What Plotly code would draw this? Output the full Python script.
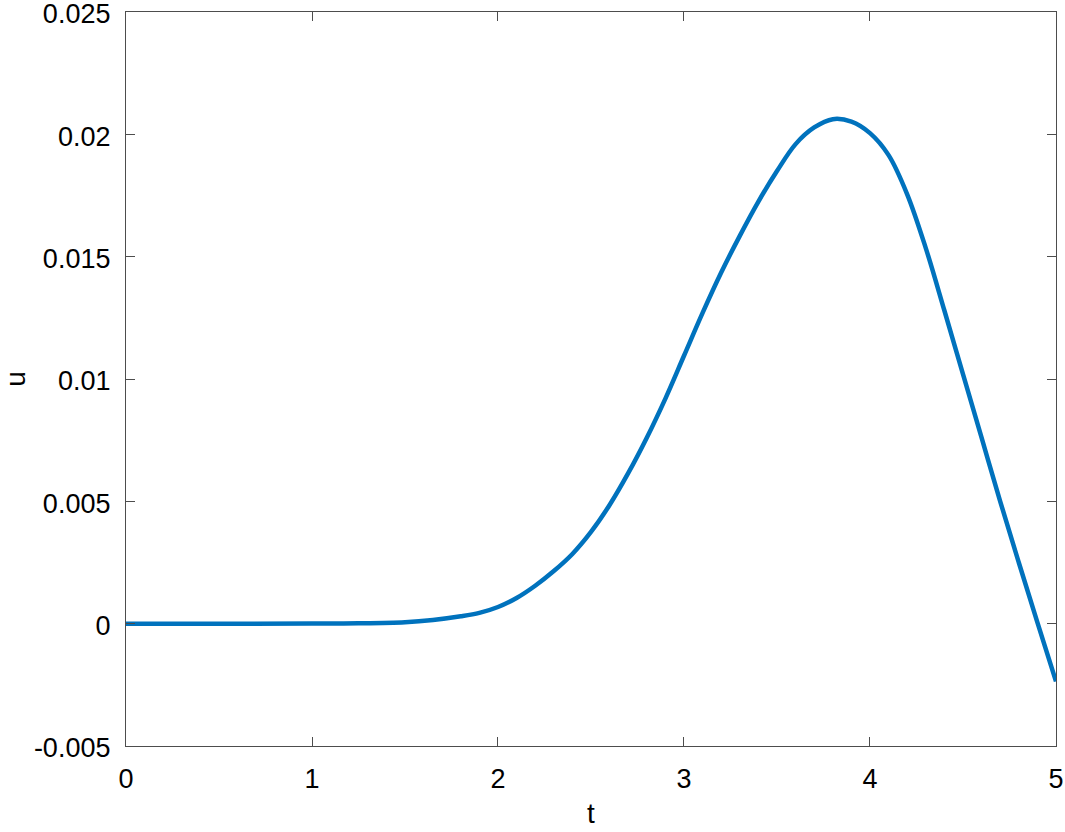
import plotly.graph_objects as go

# values (u in units of 1e-3)
t_vals = [0, 0.5, 1.0, 1.25, 1.5, 1.65, 1.8, 1.9, 2.0, 2.1, 2.2, 2.3, 2.4, 2.5, 2.6,
          2.7, 2.8, 2.9, 3.0, 3.1, 3.2, 3.3, 3.4, 3.5, 3.6, 3.7, 3.8, 3.9, 4.0,
          4.1, 4.2, 4.3, 4.4, 4.5, 4.6, 4.7, 4.8, 4.9, 5.0]
u_milli = [0, 0, 0.005, 0.015, 0.06, 0.15, 0.3, 0.44, 0.68, 1.05, 1.55, 2.15, 2.85, 3.75, 4.85,
           6.15, 7.6, 9.2, 10.95, 12.7, 14.35, 15.85, 17.25, 18.5, 19.6, 20.28, 20.62, 20.52, 20.05,
           19.15, 17.55, 15.35, 12.8, 10.2, 7.6, 5.0, 2.5, 0.05, -2.36]
u_vals = [v / 1000 for v in u_milli]

y_ticks = [-0.005, 0, 0.005, 0.01, 0.015, 0.02, 0.025]
y_labels = ["-0.005", "0", "0.005", "0.01", "0.015", "0.02", "0.025"]
x_ticks = [0, 1, 2, 3, 4, 5]

FONT = "Liberation Sans, Arial"

fig = go.Figure()
fig.add_trace(go.Scatter(x=t_vals, y=u_vals, mode="lines",
                         line=dict(color="#0072BD", width=4.5, shape="spline", smoothing=1.0),
                         showlegend=False))

axis_style = dict(showgrid=False, zeroline=False, showline=True, linecolor="#4d4d4d",
                  linewidth=1.3, mirror="ticks", ticks="inside", ticklen=9,
                  tickcolor="#4d4d4d", tickwidth=1.3, automargin=False,
                  ticklabeloverflow="allow",
                  tickfont=dict(family=FONT, size=27, color="black"))

fig.update_layout(
    width=1065, height=832,
    margin=dict(l=126, r=9, t=12, b=86),
    plot_bgcolor="white", paper_bgcolor="white",
    xaxis=dict(range=[0, 5.0001], tickvals=x_ticks, ticklabelstandoff=8,
               title=dict(text="t", standoff=10,
                          font=dict(family=FONT, size=28, color="black")),
               **axis_style),
    yaxis=dict(range=[-0.0050001, 0.0250001], tickvals=y_ticks, ticktext=y_labels,
               ticklabelstandoff=9, ticklabelshift=2,
               title=dict(text="u", standoff=3,
                          font=dict(family=FONT, size=28, color="black")),
               **axis_style),
)

# drop the page's default body margin so the figure sits at the window's corner
fig.write_html("out.html", config={"displayModeBar": False},
               post_script="document.body.style.margin='0';")
